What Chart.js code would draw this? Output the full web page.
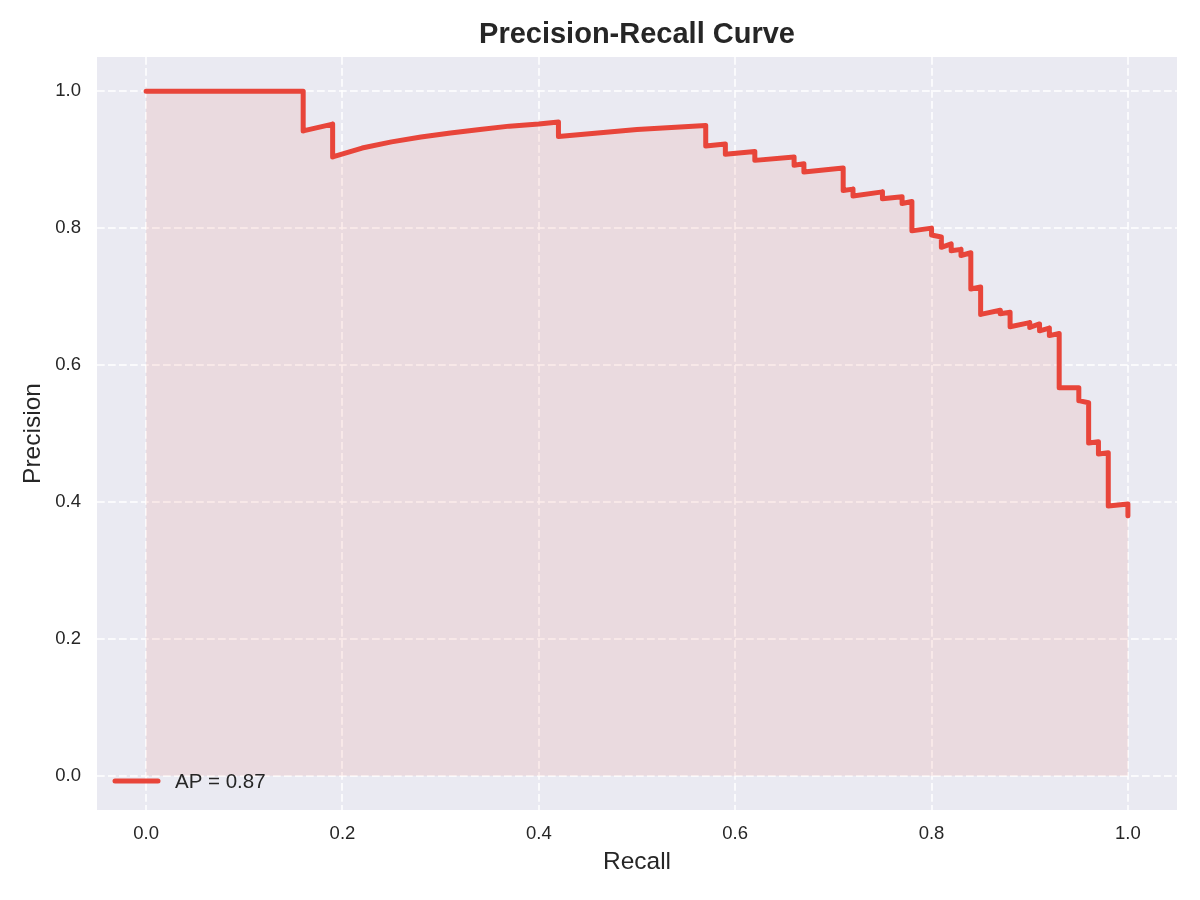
<!DOCTYPE html>
<html>
<head>
<meta charset="utf-8">
<script src="https://cdn.jsdelivr.net/npm/chart.js@4"></script>
<style>
  html, body { margin: 0; padding: 0; background: #ffffff; }
  #wrap { width: 1200px; height: 900px; }
</style>
</head>
<body>
<div id="wrap"><canvas id="prChart" width="1200" height="900"></canvas></div>
<script>
// valores (recall, precision)
const recall = [
  0.00, 0.16, 0.16, 0.19, 0.19, 0.22, 0.25, 0.28, 0.31, 0.34, 0.37, 0.40, 0.42,
  0.42, 0.50, 0.57, 0.57, 0.59, 0.59, 0.62, 0.62, 0.66, 0.66, 0.67, 0.67, 0.71,
  0.71, 0.71, 0.72, 0.72, 0.75, 0.75, 0.77, 0.77, 0.78, 0.78, 0.80, 0.80, 0.81,
  0.81, 0.82, 0.82, 0.83, 0.83, 0.84, 0.84, 0.85, 0.85, 0.87, 0.87, 0.88, 0.88,
  0.90, 0.90, 0.91, 0.91, 0.92, 0.92, 0.93, 0.93, 0.95, 0.95, 0.96, 0.96, 0.97,
  0.97, 0.98, 0.98, 1.00, 1.00
];
const precision = [
  1.000, 1.000, 0.942, 0.952, 0.904, 0.917, 0.926, 0.933, 0.939, 0.944, 0.949, 0.952, 0.955,
  0.934, 0.944, 0.950, 0.920, 0.923, 0.908, 0.912, 0.899, 0.904, 0.892, 0.894, 0.882, 0.888,
  0.876, 0.855, 0.857, 0.847, 0.853, 0.843, 0.846, 0.836, 0.839, 0.796, 0.800, 0.790, 0.787,
  0.772, 0.777, 0.767, 0.769, 0.760, 0.764, 0.711, 0.714, 0.674, 0.680, 0.675, 0.677, 0.656,
  0.662, 0.655, 0.660, 0.650, 0.654, 0.643, 0.646, 0.567, 0.567, 0.548, 0.545, 0.486, 0.488,
  0.470, 0.472, 0.394, 0.397, 0.380
];
const curveLabel = 'AP = 0.87';
const chartTitle = 'Precision-Recall Curve';
const xTicks = [0.0, 0.2, 0.4, 0.6, 0.8, 1.0];
const yTicks = [0.0, 0.2, 0.4, 0.6, 0.8, 1.0];

const lineColor = '#e8453a';
const textColor = '#262626';
const fontFam = '"Liberation Sans", Arial, "DejaVu Sans", sans-serif';
const gridStyle = {
  color: 'rgba(255,255,255,0.75)',
  lineWidth: 2,
  drawTicks: false
};

// fondo del area del grafico
const plotBg = {
  id: 'plotBg',
  beforeDraw(chart) {
    const { ctx, chartArea: a } = chart;
    ctx.save();
    ctx.fillStyle = '#eaeaf2';
    ctx.fillRect(a.left, a.top, a.right - a.left, a.bottom - a.top);
    ctx.restore();
  }
};

// titulo centrado sobre el area + leyenda abajo a la izquierda
const overlay = {
  id: 'overlay',
  afterDraw(chart) {
    const { ctx, chartArea: a } = chart;
    const ds = chart.data.datasets[0];
    ctx.save();
    ctx.fillStyle = textColor;
    ctx.textAlign = 'center';
    ctx.textBaseline = 'middle';
    ctx.font = 'bold 29px ' + fontFam;
    ctx.fillText(chartTitle, (a.left + a.right) / 2, 35);

    const y = a.bottom - 29;
    ctx.strokeStyle = ds.borderColor;
    ctx.lineWidth = 5;
    ctx.lineCap = 'round';
    ctx.beginPath();
    ctx.moveTo(a.left + 18, y);
    ctx.lineTo(a.left + 61, y);
    ctx.stroke();
    ctx.textAlign = 'left';
    ctx.font = '20.5px ' + fontFam;
    ctx.fillText(ds.label, a.left + 78, y + 1);
    ctx.restore();
  }
};

const points = recall.map((r, i) => ({ x: r, y: precision[i] }));

new Chart(document.getElementById('prChart'), {
  type: 'scatter',
  data: {
    datasets: [{
      label: curveLabel,
      data: points,
      showLine: true,
      borderColor: lineColor,
      borderWidth: 5,
      borderCapStyle: 'round',
      borderJoinStyle: 'round',
      pointRadius: 0,
      tension: 0,
      fill: 'origin',
      backgroundColor: 'rgba(231, 76, 60, 0.1)'
    }]
  },
  options: {
    responsive: false,
    animation: false,
    devicePixelRatio: 1,
    layout: { padding: { left: 0, right: 23, top: 57, bottom: 0 } },
    plugins: {
      legend: { display: false },
      tooltip: { enabled: false },
      title: { display: false }
    },
    scales: {
      x: {
        type: 'linear',
        min: -0.05,
        max: 1.05,
        afterBuildTicks: s => { s.ticks = xTicks.map(v => ({ value: v })); },
        afterFit: s => { s.height = 90; },
        border: { display: false, dash: [7.7, 3.3] },
        grid: gridStyle,
        ticks: {
          padding: 13,
          color: textColor,
          font: { family: fontFam, size: 18.5 },
          callback: v => v.toFixed(1)
        },
        title: {
          display: true,
          text: 'Recall',
          color: textColor,
          font: { family: fontFam, size: 24.5 },
          padding: { top: 0, bottom: 23 }
        }
      },
      y: {
        type: 'linear',
        min: -0.05,
        max: 1.05,
        afterBuildTicks: s => { s.ticks = yTicks.map(v => ({ value: v })); },
        afterFit: s => { s.width = 97; },
        border: { display: false, dash: [7.7, 3.3] },
        grid: gridStyle,
        ticks: {
          padding: 16,
          color: textColor,
          font: { family: fontFam, size: 18.5 },
          callback: v => v.toFixed(1)
        },
        title: {
          display: true,
          text: 'Precision',
          color: textColor,
          font: { family: fontFam, size: 24.5 },
          padding: { top: 19, bottom: 0 }
        }
      }
    }
  },
  plugins: [plotBg, overlay]
});
</script>
</body>
</html>
